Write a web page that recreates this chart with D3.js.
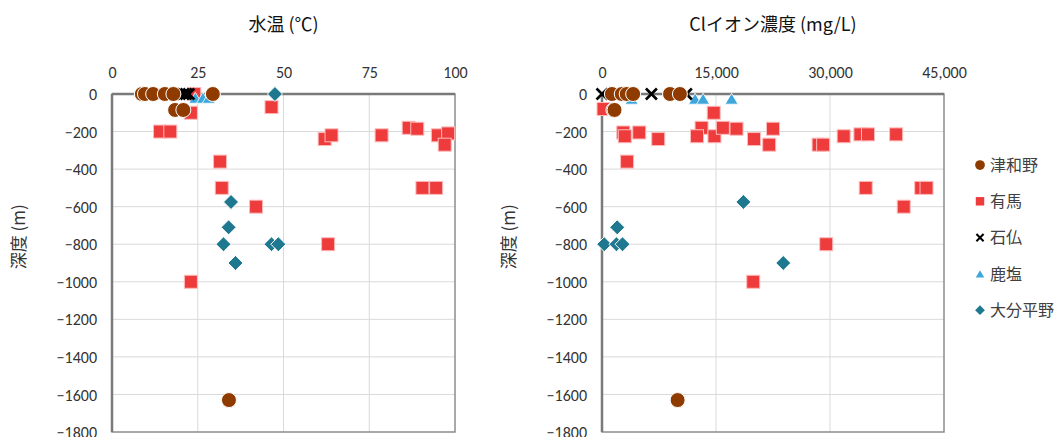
<!DOCTYPE html>
<html>
<head>
<meta charset="utf-8">
<script src="https://cdn.jsdelivr.net/npm/d3@7"></script>
<style>
  body { margin: 0; background: #fff; }
  text { font-family: Carlito, "Noto Sans", "Noto Sans CJK JP", sans-serif; }
</style>
</head>
<body>
<div id="chart"></div>
<script>
// ---- data (x value, depth m) ----
const seriesNames = ["津和野", "有馬", "石仏", "鹿塩", "大分平野"];

const tsuwanoTemp = [[8.7, 0], [9.6, 0], [12, 0], [15.4, 0], [17.9, 0], [29.4, 0], [18.4, -85], [20.8, -85], [34.1, -1630]];
const arimaTemp = [[24, 0], [46.5, -70], [23, -100], [14, -200], [17, -200], [62, -240], [64, -220], [78.6, -220],
  [86.5, -180], [89, -185], [95, -220], [98, -210], [97, -270], [31.5, -360], [32, -500], [90.5, -500],
  [94.5, -500], [42, -600], [63, -800], [23, -1000]];
const ishibotokeTemp = [[20.8, 0], [21.6, 0], [22.4, 0]];
const shikashioTemp = [[24.3, -20], [26.5, -20], [28.2, -20]];
const oitaTemp = [[47.5, 0], [34.7, -575], [34, -710], [32.5, -800], [46.5, -800], [48.5, -800], [36, -900]];

const tsuwanoCl = [[1300, 0], [2600, 0], [3250, 0], [4100, 0], [8950, 0], [10250, 0], [1500, -85], [1650, -85], [9950, -1630]];
const arimaCl = [[200, -80], [14700, -100], [2800, -205], [3000, -225], [4900, -205], [7400, -240], [13100, -180],
  [12500, -225], [14800, -225], [15900, -180], [17700, -185], [20000, -240], [22500, -185], [22000, -270],
  [28500, -270], [29100, -270], [31800, -225], [34000, -215], [35000, -215], [38700, -215], [3300, -360],
  [34700, -500], [42000, -500], [42700, -500], [39700, -600], [29500, -800], [19900, -1000]];
const ishibotokeCl = [[0, 0], [6500, 0], [11100, 0]];
const shikashioCl = [[3900, -25], [12250, -25], [13300, -25], [17050, -25]];
const oitaCl = [[300, -800], [1900, -800], [2700, -800], [2000, -710], [18600, -575], [23850, -900]];

const tempTicks = [0, 25, 50, 75, 100];
const clTicks = [0, 15000, 30000, 45000];
const depthTicks = [0, -200, -400, -600, -800, -1000, -1200, -1400, -1600, -1800];

// ---- styles ----
const colors = { "津和野": "#8f3b00", "有馬": "#ee3b3b", "石仏": "#000", "鹿塩": "#3ea6da", "大分平野": "#1e7890" };
const shapes = { "津和野": "circle", "有馬": "square", "石仏": "x", "鹿塩": "triangle", "大分平野": "diamond" };
// draw order (bottom -> top)
const drawOrder = ["有馬", "鹿塩", "石仏", "大分平野", "津和野"];

const W = 1063, H = 437;
const svg = d3.select("#chart").append("svg").attr("width", W).attr("height", H);

function marker(sel, name, s) {
  const shape = shapes[name];
  const c = colors[name];
  if (shape === "circle") {
    sel.append("circle").attr("r", 7.5 * s).attr("fill", c)
      .attr("stroke", "#fff").attr("stroke-width", s < 1 ? 0 : 1);
  } else if (shape === "square") {
    const a = 13 * s;
    sel.append("rect").attr("x", -a / 2).attr("y", -a / 2).attr("width", a).attr("height", a)
      .attr("fill", c).attr("stroke", "#fbb").attr("stroke-width", s < 1 ? 0 : 1);
  } else if (shape === "diamond") {
    const a = 7.5 * s;
    sel.append("path").attr("d", `M0,${-a}L${a},0L0,${a}L${-a},0Z`)
      .attr("fill", c).attr("stroke", "#fff").attr("stroke-width", s < 1 ? 0 : 1);
  } else if (shape === "triangle") {
    const w = 13 * s, h = 11 * s;
    sel.append("path").attr("d", `M0,${-h / 2}L${w / 2},${h / 2}L${-w / 2},${h / 2}Z`)
      .attr("fill", c).attr("stroke", "#fff").attr("stroke-width", s < 1 ? 0 : 0.8);
  } else if (shape === "x") {
    const a = 5.5 * s;
    sel.append("path").attr("d", `M${-a},${-a}L${a},${a}M${-a},${a}L${a},${-a}`)
      .attr("fill", "none").attr("stroke", c).attr("stroke-width", s < 1 ? 2 : 2.6);
  }
}

function drawPanel(opt) {
  const x = d3.scaleLinear().domain(opt.xDomain).range([opt.left, opt.right]);
  const y = d3.scaleLinear().domain([0, -1800]).range([94, 432]);
  const g = svg.append("g");

  // grid
  g.append("g").selectAll("line").data(opt.xTicks.slice(1, -1)).join("line")
    .attr("x1", d => x(d)).attr("x2", d => x(d)).attr("y1", y(0)).attr("y2", y(-1800))
    .attr("stroke", "#d9d9d9").attr("stroke-width", 1);
  g.append("g").selectAll("line").data(depthTicks.slice(1, -1)).join("line")
    .attr("x1", x(opt.xDomain[0])).attr("x2", x(opt.xDomain[1])).attr("y1", d => y(d)).attr("y2", d => y(d))
    .attr("stroke", "#d9d9d9").attr("stroke-width", 1);

  // border
  g.append("rect").attr("x", x(opt.xDomain[0])).attr("y", y(0))
    .attr("width", x(opt.xDomain[1]) - x(opt.xDomain[0])).attr("height", y(-1800) - y(0))
    .attr("fill", "none").attr("stroke", "#8c8c8c").attr("stroke-width", 1.5);

  // axes (y axis on left, x axis at depth 0 on top)
  const xAxis = d3.axisTop(x).tickValues(opt.xTicks).tickSize(0).tickPadding(0).tickFormat(opt.fmt);
  const xa = g.append("g").attr("transform", `translate(0,78)`).call(xAxis);
  xa.select(".domain").remove();
  xa.selectAll("text").attr("font-size", "16px").attr("fill", "#333");

  const yAxis = d3.axisLeft(y).tickValues(depthTicks).tickSize(0).tickPadding(0).tickFormat(d3.format("d"));
  const ya = g.append("g").attr("transform", `translate(${opt.left - 15},0)`).call(yAxis);
  ya.select(".domain").remove();
  ya.selectAll("text").attr("font-size", "16px").attr("fill", "#333").attr("dy", "0.35em");

  g.append("line").attr("x1", x(opt.xDomain[0])).attr("x2", x(opt.xDomain[0]))
    .attr("y1", y(0)).attr("y2", y(-1800)).attr("stroke", "#7a7a7a").attr("stroke-width", 2.5);
  g.append("line").attr("x1", x(opt.xDomain[0])).attr("x2", x(opt.xDomain[1]))
    .attr("y1", y(0)).attr("y2", y(0)).attr("stroke", "#7a7a7a").attr("stroke-width", 2.5);

  // titles
  g.append("text").attr("x", (opt.left + opt.right) / 2).attr("y", 31)
    .attr("text-anchor", "middle").attr("font-size", "18px").attr("fill", "#111")
    .style("font-family", "'Noto Sans CJK JP', sans-serif").text(opt.title);
  g.append("text").attr("transform", `translate(${opt.left - 87},${y(-760)}) rotate(-90)`)
    .attr("text-anchor", "middle").attr("font-size", "17px").attr("fill", "#333")
    .style("font-family", "'Noto Sans CJK JP', sans-serif").text("深度 (m)");

  // points
  drawOrder.forEach(name => {
    const data = opt.data[name];
    g.append("g").selectAll("g").data(data).join("g")
      .attr("transform", d => `translate(${x(d[0])},${y(d[1])})`)
      .each(function () { marker(d3.select(this), name, 1); });
  });
}

drawPanel({
  left: 112, right: 455, xDomain: [0, 100], xTicks: tempTicks, fmt: d3.format("d"),
  title: "水温 (℃)",
  data: { "津和野": tsuwanoTemp, "有馬": arimaTemp, "石仏": ishibotokeTemp, "鹿塩": shikashioTemp, "大分平野": oitaTemp }
});

drawPanel({
  left: 602, right: 944, xDomain: [0, 45000], xTicks: clTicks, fmt: d3.format(","),
  title: "Clイオン濃度 (mg/L)",
  data: { "津和野": tsuwanoCl, "有馬": arimaCl, "石仏": ishibotokeCl, "鹿塩": shikashioCl, "大分平野": oitaCl }
});

// legend
const legend = svg.append("g").attr("transform", "translate(980,165)");
seriesNames.forEach((name, i) => {
  const row = legend.append("g").attr("transform", `translate(0,${i * 36.3})`);
  marker(row, name, 0.65);
  row.append("text").attr("x", 10).attr("y", 0).attr("dy", "0.35em")
    .attr("font-size", "16px").attr("fill", "#404040")
    .style("font-family", "'Noto Sans CJK JP', sans-serif").text(name);
});
</script>
</body>
</html>
